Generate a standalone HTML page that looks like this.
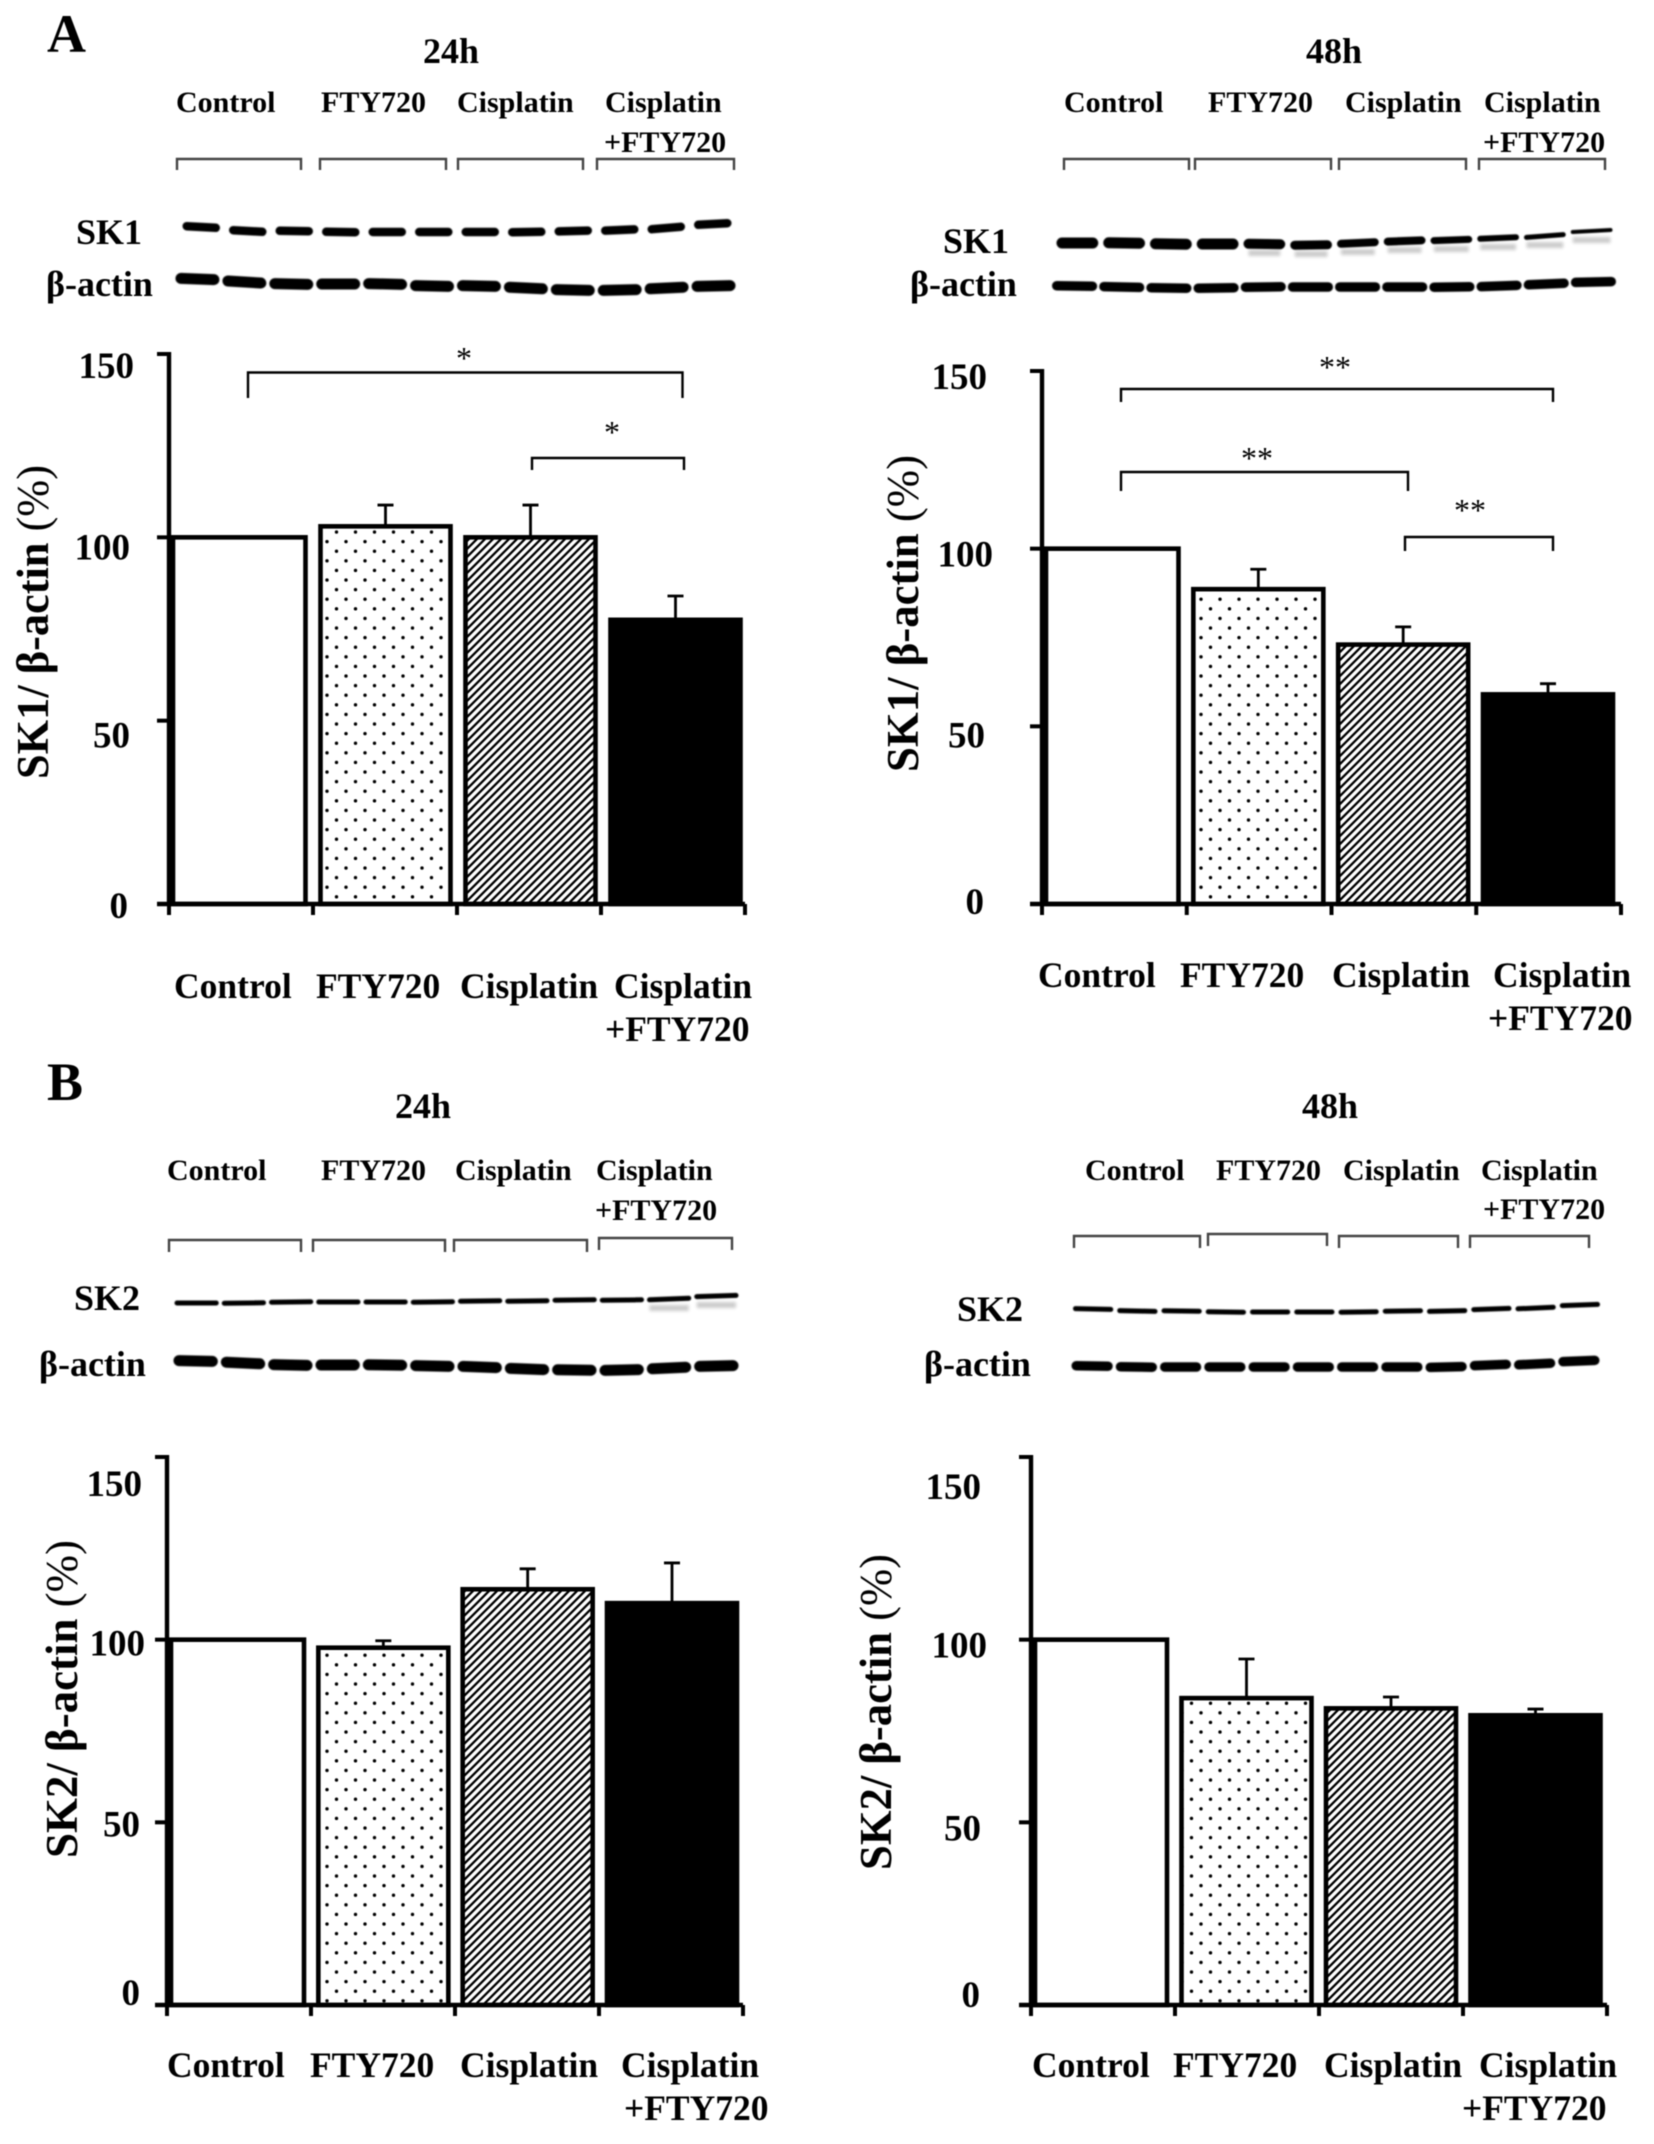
<!DOCTYPE html>
<html lang="en">
<head>
<meta charset="utf-8">
<title>SK1 and SK2 expression after FTY720 and cisplatin</title>
<style>
html,body{margin:0;padding:0;background:#fff}
svg{display:block;filter:blur(0.55px)}
text{font-family:"Liberation Serif",serif;font-weight:bold;fill:#000}
.blot-head{font-size:30px}
.head{font-size:36px}
.row{font-size:36px}
.ytitle{font-size:45px}
.star{font-size:32px;font-weight:normal}
.panel{font-size:54px}
.gb{fill:none;stroke:#444;stroke-width:2.4}
.sb{fill:none;stroke:#000;stroke-width:2.4}
</style>
</head>
<body>
<svg id="figure" width="1654" height="2144" viewBox="0 0 1654 2144" xmlns="http://www.w3.org/2000/svg">
<defs>
<pattern id="dots" patternUnits="userSpaceOnUse" width="19" height="19.2">
<circle cx="4" cy="4" r="1.7" fill="#000"/><circle cx="13.5" cy="13.6" r="1.7" fill="#000"/>
</pattern>
<pattern id="hatch" patternUnits="userSpaceOnUse" width="8" height="8">
<rect width="8" height="8" fill="#fff"/>
<path d="M-2 2L2-2M0 8L8 0M6 10L10 6" stroke="#000" stroke-width="2.3"/>
</pattern>
<filter id="soft" x="-5%" y="-100%" width="110%" height="300%"><feGaussianBlur stdDeviation="0.6"/></filter>
<filter id="softer" x="-20%" y="-100%" width="140%" height="300%"><feGaussianBlur stdDeviation="1.6"/></filter>
</defs>
<rect width="1654" height="2144" fill="#fff"/>

<text class="panel" x="47" y="52">A</text>
<text class="panel" x="47" y="1100">B</text>

<text class="head" x="423" y="63">24h</text>
<text class="head" x="1306" y="63">48h</text>
<text class="head" x="395" y="1118">24h</text>
<text class="head" x="1302" y="1118">48h</text>

<g>
<text class="blot-head" x="176" y="112">Control</text><text class="blot-head" x="321" y="112">FTY720</text><text class="blot-head" x="457" y="112">Cisplatin</text><text class="blot-head" x="605" y="112">Cisplatin</text><text class="blot-head" x="604" y="152">+FTY720</text>
<path class="gb" d="M177 170V159H301V170M320 170V159H446V170M458 170V159H583V170M597 170V159H734V170"/>
<text class="row" x="76" y="244">SK1</text><text class="row" x="46" y="296">β-actin</text>
</g>
<g>
<text class="blot-head" x="1064" y="112">Control</text><text class="blot-head" x="1208" y="112">FTY720</text><text class="blot-head" x="1345" y="112">Cisplatin</text><text class="blot-head" x="1484" y="112">Cisplatin</text><text class="blot-head" x="1483" y="152">+FTY720</text>
<path class="gb" d="M1064 170V159H1189V170M1195 170V159H1331V170M1339 170V159H1466V170M1479 170V159H1605V170"/>
<text class="row" x="943" y="253">SK1</text><text class="row" x="910" y="296">β-actin</text>
</g>
<g>
<text class="blot-head" x="167" y="1180">Control</text><text class="blot-head" x="321" y="1180">FTY720</text><text class="blot-head" x="455" y="1180">Cisplatin</text><text class="blot-head" x="596" y="1180">Cisplatin</text><text class="blot-head" x="595" y="1220">+FTY720</text>
<path class="gb" d="M169 1252V1240H301V1252M313 1252V1240H445V1252M454 1252V1240H587V1252M599 1250V1238H732V1250"/>
<text class="row" x="74" y="1310">SK2</text><text class="row" x="39" y="1376">β-actin</text>
</g>
<g>
<text class="blot-head" x="1085" y="1180">Control</text><text class="blot-head" x="1216" y="1180">FTY720</text><text class="blot-head" x="1343" y="1180">Cisplatin</text><text class="blot-head" x="1481" y="1180">Cisplatin</text><text class="blot-head" x="1483" y="1219">+FTY720</text>
<path class="gb" d="M1074 1248V1236H1200V1248M1208 1246V1234H1327V1246M1339 1248V1236H1458V1248M1470 1248V1236H1589V1248"/>
<text class="row" x="957" y="1321">SK2</text><text class="row" x="924" y="1376">β-actin</text>
</g>

<text class="ytitle" transform="translate(48 779) rotate(-90)" textLength="314" lengthAdjust="spacingAndGlyphs">SK1/ β-actin <tspan font-weight="normal">(%)</tspan></text>
<text class="ytitle" transform="translate(918 772) rotate(-90)" textLength="317" lengthAdjust="spacingAndGlyphs">SK1/ β-actin <tspan font-weight="normal">(%)</tspan></text>
<text class="ytitle" transform="translate(77 1858) rotate(-90)" textLength="318" lengthAdjust="spacingAndGlyphs">SK2/ β-actin <tspan font-weight="normal">(%)</tspan></text>
<text class="ytitle" transform="translate(891 1870) rotate(-90)" textLength="316" lengthAdjust="spacingAndGlyphs">SK2/ β-actin <tspan font-weight="normal">(%)</tspan></text>

<g>
<path class="sb" d="M248 398V372.5H682.5V398"/><path class="sb" d="M532 470V458H684V470"/>
<text class="star" x="456" y="369">*</text><text class="star" x="604" y="443">*</text>
</g>
<g>
<path class="sb" d="M1121 402V389H1553V402"/><path class="sb" d="M1121 491V472H1408V491"/><path class="sb" d="M1405 551V537H1553V551"/>
<text class="star" x="1319" y="378">**</text><text class="star" x="1241" y="469">**</text><text class="star" x="1454" y="521">**</text>
</g>

<g id="blots"></g>
<g id="charts"></g>
</svg>

<script>
const categories = ['Control', 'FTY720', 'Cisplatin', 'Cisplatin|+FTY720'];
const yTickValues = [0, 50, 100, 150];

const sk1At24hMeans = [100, 103, 100, 77.5];
const sk1At24hErrors = [0, 5.8, 8.8, 6.5];
const sk1At48hMeans = [100, 88.6, 73, 59];
const sk1At48hErrors = [0, 5.6, 5, 3];
const sk2At24hMeans = [100, 97.8, 113.8, 110];
const sk2At24hErrors = [0, 1.9, 5.6, 11];
const sk2At48hMeans = [100, 84, 81.2, 79.3];
const sk2At48hErrors = [0, 10.7, 3.1, 1.7];

const fills = ['#fff', 'url(#dots)', 'url(#hatch)', '#000'];
const NS = 'http://www.w3.org/2000/svg';

const chartLayouts = [
  {id: 'sk1-24h', means: sk1At24hMeans, errors: sk1At24hErrors, axisX0: 169, axisX1: 745, y0: 904, y150: 354, c0: 240.5, c1: 675.5,
   tickRight: [128, 130, 130, 134], tickDy: [2, 15, 10, 12], catX: [174, 316, 460, 614, 605], catY: 998},
  {id: 'sk1-48h', means: sk1At48hMeans, errors: sk1At48hErrors, axisX0: 1042, axisX1: 1621, y0: 904, y150: 371, c0: 1113.5, c1: 1548,
   tickRight: [984, 985, 993, 987], tickDy: [-2, 9, 6, 6], catX: [1038, 1180, 1332, 1493, 1488], catY: 987},
  {id: 'sk2-24h', means: sk2At24hMeans, errors: sk2At24hErrors, axisX0: 167, axisX1: 743, y0: 2005, y150: 1457, c0: 239, c1: 672,
   tickRight: [140, 140, 145, 142], tickDy: [-12, 2, 4, 27], catX: [167, 310, 460, 621, 624], catY: 2077},
  {id: 'sk2-48h', means: sk2At48hMeans, errors: sk2At48hErrors, axisX0: 1031, axisX1: 1607, y0: 2005, y150: 1457, c0: 1102, c1: 1535.5,
   tickRight: [980, 981, 987, 981], tickDy: [-10, 6, 6, 30], catX: [1032, 1173, 1324, 1479, 1462], catY: 2077}
];

const chartsRoot = document.getElementById('charts');

function svgEl(tag, attrs, parent) {
  const el = document.createElementNS(NS, tag);
  for (const k in attrs) el.setAttribute(k, attrs[k]);
  parent.appendChild(el);
  return el;
}

function drawChart(L) {
  const g = svgEl('g', {}, chartsRoot);
  
  
  const yScale = function (v) { return L.y0 - (L.y0 - L.y150) * v / 150; };
  const xCenter = function (i) { return L.c0 + i * (L.c1 - L.c0) / (categories.length - 1); };
  const barWidth = 134;

  L.means.forEach(function (mean, i) {
    const top = yScale(mean + L.errors[i]);
    const barTop = yScale(mean);
    const cx = xCenter(i);
    if (L.errors[i] > 0) {
      const stem = svgEl('path', {d: 'M' + cx + ' ' + barTop + 'V' + top + 'M' + (cx - 8) + ' ' + top + 'H' + (cx + 8), fill: 'none', stroke: '#000', 'stroke-width': 2.8}, g);
      
      
    }
    const right = cx + barWidth / 2 - 2;
    const left = i === 0 ? L.axisX0 + 4 : cx - barWidth / 2 + 2;
    const bar = svgEl('rect', {x: left, y: barTop, width: right - left, height: L.y0 - barTop, fill: fills[i], stroke: '#000', 'stroke-width': 4.6}, g);
    
    
  });

  const yAxis = svgEl('path', {d: 'M' + L.axisX0 + ' ' + (L.y150 - 2) + 'V' + (L.y0 + 2), fill: 'none', stroke: '#000', 'stroke-width': 4.4}, g);
  
  

  const xAxis = svgEl('path', {d: 'M' + (L.axisX0 - 12) + ' ' + L.y0 + 'H' + L.axisX1, fill: 'none', stroke: '#000', 'stroke-width': 4.4}, g);
  
  

  for (let i = 0; i <= categories.length; i++) {
    const tx = L.axisX0 + i * (L.axisX1 - L.axisX0) / categories.length;
    const xt = svgEl('path', {d: 'M' + tx + ' ' + L.y0 + 'V' + (L.y0 + 11), fill: 'none', stroke: '#000', 'stroke-width': 4}, g);
    
    
  }

  yTickValues.forEach(function (t, i) {
    const ty = yScale(t);
    const mark = svgEl('path', {d: 'M' + (L.axisX0 - 12) + ' ' + ty + 'H' + L.axisX0, fill: 'none', stroke: '#000', 'stroke-width': 4}, g);
    
    
    const label = svgEl('text', {x: L.tickRight[i], y: ty + L.tickDy[i] + 12, 'text-anchor': 'end', 'font-size': 37}, g);
    label.textContent = String(t);
    
    
  });

  categories.forEach(function (c, i) {
    const lines = c.split('|');
    const first = svgEl('text', {x: L.catX[i], y: L.catY, 'font-size': 35.5}, g);
    first.textContent = lines[0];
    
    
    if (lines[1]) {
      const second = svgEl('text', {x: L.catX[i + 1], y: L.catY + 43, 'font-size': 35.5}, g);
      second.textContent = lines[1];
      
      
    }
  });
}

chartLayouts.forEach(drawChart);

/* Western-blot band strips: one rounded band per lane */
const blotsRoot = document.getElementById('blots');
const blotA24Sk1 = [227, 231, 231, 232, 232, 232, 232, 232, 231, 230, 228, 224];
const blotA24Actin = [279, 282, 284, 284, 284, 286, 286, 288, 290, 290, 288, 286];
const blotA48Sk1 = [243, 243, 244, 244, 244, 245, 243, 241, 240, 238, 236, 231];
const blotA48Actin = [286, 287, 288, 288, 287, 287, 287, 287, 287, 286, 284, 282];
const blotB24Sk2 = [1303, 1303, 1302, 1302, 1302, 1302, 1301, 1301, 1300, 1300, 1299, 1296];
const blotB24Actin = [1361, 1363, 1365, 1365, 1365, 1366, 1367, 1369, 1370, 1370, 1368, 1366];
const blotB48Sk2 = [1309, 1311, 1311, 1312, 1312, 1312, 1312, 1311, 1311, 1309, 1308, 1305];
const blotB48Actin = [1366, 1367, 1367, 1367, 1367, 1367, 1367, 1367, 1367, 1365, 1364, 1361];
const blotA48Sk1Thickness = [11, 11, 11, 11, 10, 9, 8, 8, 7, 6, 5, 4];

const blotStrips = [
  {id: 'a-24h-sk1', x0: 178, x1: 736, ys: blotA24Sk1, th: 8.5, gap: 9},
  {id: 'a-24h-actin', x0: 174, x1: 737, ys: blotA24Actin, th: 11, gap: 3},
  {id: 'a-48h-sk1', x0: 1054, x1: 1615, ys: blotA48Sk1, ths: blotA48Sk1Thickness, gap: 5, ghostFrom: 4},
  {id: 'a-48h-actin', x0: 1051, x1: 1617, ys: blotA48Actin, th: 9.5, gap: 2},
  {id: 'b-24h-sk2', x0: 173, x1: 740, ys: blotB24Sk2, th: 5, gap: 3, ghostFrom: 10},
  {id: 'b-24h-actin', x0: 172, x1: 740, ys: blotB24Actin, th: 11, gap: 3},
  {id: 'b-48h-sk2', x0: 1071, x1: 1602, ys: blotB48Sk2, th: 5, gap: 4},
  {id: 'b-48h-actin', x0: 1070, x1: 1601, ys: blotB48Actin, th: 9.5, gap: 3}
];

blotStrips.forEach(function (s) {
  const strip = svgEl('g', {filter: 'url(#soft)'}, blotsRoot);
  
  
  const lane = (s.x1 - s.x0) / s.ys.length;
  s.ys.forEach(function (y, i) {
    const th = s.ths ? s.ths[i] : s.th;
    const next = s.ys[Math.min(i + 1, s.ys.length - 1)];
    const prev = s.ys[Math.max(i - 1, 0)];
    const tilt = (next - prev) / 5;
    const a = s.x0 + i * lane + s.gap / 2 + th / 2;
    const b = s.x0 + (i + 1) * lane - s.gap / 2 - th / 2;
    if (s.ghostFrom !== undefined && i >= s.ghostFrom) {
      const ghost = svgEl('rect', {x: a, y: y + 6, width: b - a, height: 6, fill: '#000', opacity: 0.2, filter: 'url(#softer)'}, blotsRoot);
      
      
    }
    const band = svgEl('path', {d: 'M' + a + ' ' + (y - tilt) + 'L' + b + ' ' + (y + tilt), stroke: '#000', 'stroke-width': th, 'stroke-linecap': 'round', fill: 'none'}, strip);
    
    
  });
});
</script>
</body>
</html>
